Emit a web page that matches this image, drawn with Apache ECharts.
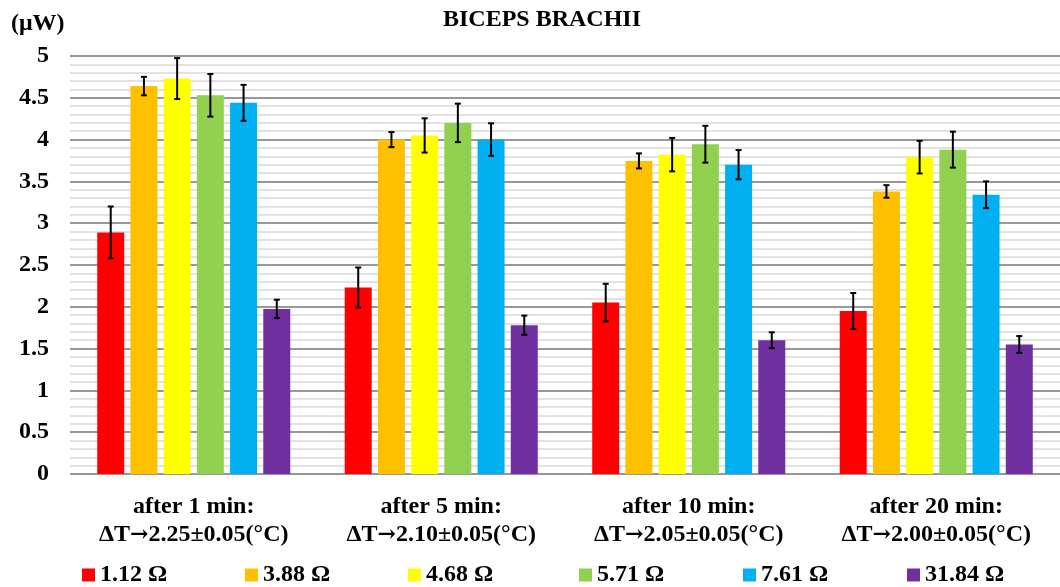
<!DOCTYPE html>
<html><head><meta charset="utf-8">
<script src="https://cdn.jsdelivr.net/npm/echarts@6/dist/echarts.min.js"></script>
<style>html,body{margin:0;padding:0;background:#fff}#c{width:1060px;height:587px}</style>
</head><body><div id="c"></div>
<script>
const categories = [
  'after 1 min:\nΔT→2.25±0.05(°C)',
  'after 5 min:\nΔT→2.10±0.05(°C)',
  'after 10 min:\nΔT→2.05±0.05(°C)',
  'after 20 min:\nΔT→2.00±0.05(°C)'
];
const seriesNames = ['1.12 Ω', '3.88 Ω', '4.68 Ω', '5.71 Ω', '7.61 Ω', '31.84 Ω'];
const colors = ['#FF0000', '#FFC000', '#FFFF00', '#92D050', '#00B0F0', '#7030A0'];

const v112 = [2.89, 2.23, 2.05, 1.95];
const v388 = [4.64, 4.00, 3.745, 3.38];
const v468 = [4.73, 4.05, 3.82, 3.79];
const v571 = [4.53, 4.20, 3.945, 3.88];
const v761 = [4.44, 4.00, 3.70, 3.34];
const v3184 = [1.975, 1.78, 1.60, 1.55];

const e112 = [0.31, 0.24, 0.225, 0.215];
const e388 = [0.11, 0.09, 0.09, 0.075];
const e468 = [0.245, 0.205, 0.20, 0.195];
const e571 = [0.255, 0.23, 0.22, 0.215];
const e761 = [0.215, 0.195, 0.175, 0.16];
const e3184 = [0.11, 0.115, 0.095, 0.10];

const values = [v112, v388, v468, v571, v761, v3184];
const errors = [e112, e388, e468, e571, e761, e3184];

const FONT = '"Liberation Serif", "Times New Roman", serif';
const FS = 24;
const BAR_W = 27;
const GAP_RATIO = 0.23;
const PITCH = BAR_W * (1 + GAP_RATIO);
const legendLefts = [82, 245, 408, 579, 743, 907];

const series = [];
seriesNames.forEach((name, i) => {
  series.push({
    name: name,
    type: 'bar',
    data: values[i],
    barWidth: BAR_W,
    barGap: (GAP_RATIO * 100) + '%',
    itemStyle: { color: colors[i] },
    z: 2,
    animation: false
  });
});
seriesNames.forEach((name, i) => {
  series.push({
    name: name + ' err',
    type: 'custom',
    z: 5,
    animation: false,
    data: values[i].map((v, k) => [k, v, errors[i][k]]),
    renderItem: function (params, api) {
      const k = api.value(0), v = api.value(1), e = api.value(2);
      const hi = api.coord([k, v + e]);
      const lo = api.coord([k, v - e]);
      const x = hi[0] + (i - (seriesNames.length - 1) / 2) * PITCH;
      const st = { stroke: '#000', lineWidth: 2 };
      return {
        type: 'group',
        children: [
          { type: 'line', shape: { x1: x, y1: hi[1], x2: x, y2: lo[1] }, style: st },
          { type: 'line', shape: { x1: x - 3, y1: hi[1], x2: x + 3, y2: hi[1] }, style: st },
          { type: 'line', shape: { x1: x - 3, y1: lo[1], x2: x + 3, y2: lo[1] }, style: st }
        ]
      };
    }
  });
});

const legends = seriesNames.map((name, i) => ({
  data: [name],
  left: legendLefts[i],
  top: 563,
  itemWidth: 13,
  itemHeight: 13,
  icon: 'rect',
  padding: 0,
  itemGap: 0,
  textStyle: { fontFamily: FONT, fontWeight: 'bold', fontSize: FS, color: '#000', padding: [0, 0, 0, 0] }
}));

const chart = echarts.init(document.getElementById('c'), null, { renderer: 'canvas' });
chart.setOption({
  backgroundColor: '#fff',
  animation: false,
  title: {
    text: 'BICEPS BRACHII',
    left: 443,
    top: 8,
    padding: 0,
    textStyle: { fontFamily: FONT, fontWeight: 'bold', fontSize: FS, color: '#000' }
  },
  graphic: [{
    type: 'text', left: 11, top: 12,
    style: { text: '(μW)', fontFamily: FONT, fontWeight: 'bold', fontSize: FS, fill: '#000' }
  }],
  legend: legends,
  grid: { left: 70, top: 56, width: 1000, height: 418 },
  xAxis: {
    type: 'category',
    data: categories,
    axisLine: { show: false },
    axisTick: { show: false },
    axisLabel: {
      fontFamily: FONT, fontWeight: 'bold', fontSize: FS, color: '#000',
      lineHeight: 28, margin: 19, interval: 0,
      formatter: function (val) {
        const lines = val.split('\n');
        const parts = lines[1].split('→');
        return '{a|' + lines[0] + '}\n{a|' + parts[0] + '}{r|→}{a|' + parts[1] + '}';
      },
      rich: {
        a: { fontFamily: FONT, fontWeight: 'bold', fontSize: FS, color: '#000', lineHeight: 28 },
        r: { fontFamily: '"DejaVu Serif"', fontWeight: 'bold', fontSize: FS - 2, color: '#000', lineHeight: 28 }
      }
    }
  },
  yAxis: {
    type: 'value',
    min: 0, max: 5, interval: 0.5,
    axisLine: { show: false },
    axisTick: { show: false },
    axisLabel: { fontFamily: FONT, fontWeight: 'bold', fontSize: FS, color: '#000', margin: 21 },
    splitLine: { show: true, lineStyle: { color: '#767676', width: 1.5 } },
    minorTick: { show: false, splitNumber: 5 },
    minorSplitLine: { show: true, lineStyle: { color: '#d9d9d9', width: 1.5 } }
  },
  series: series
});
</script>
</body></html>
